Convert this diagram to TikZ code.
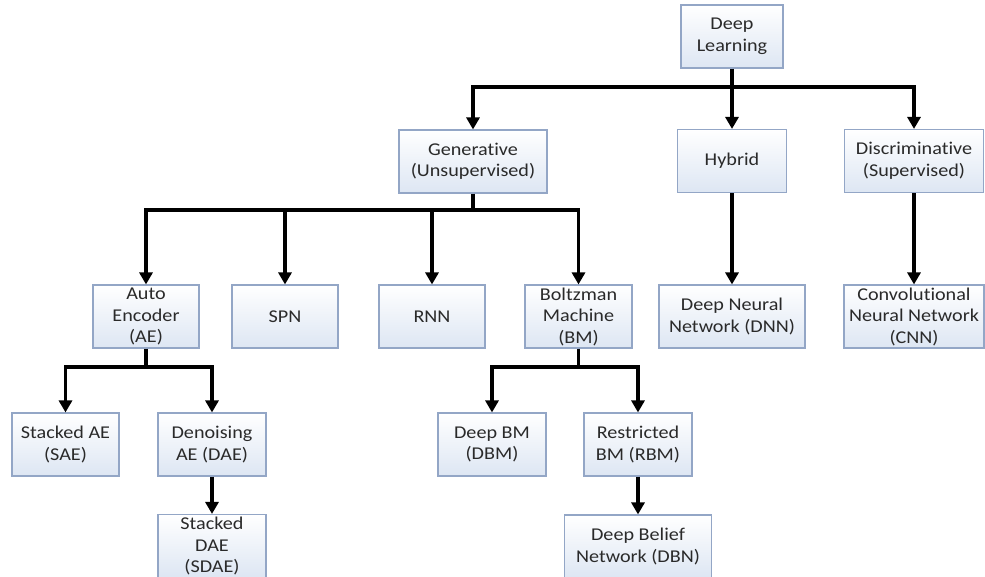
\documentclass[tikz,border=0pt]{standalone}
\usepackage{fontspec}
\setmainfont{Carlito}[FakeStretch=1.12,Ligatures={NoCommon}]
\usetikzlibrary{arrows.meta}
\definecolor{boxline}{HTML}{93A6C6}
\definecolor{boxfill}{HTML}{DDE6F3}
\definecolor{txt}{HTML}{2A2A2A}
\tikzset{
  bx/.style={draw=boxline, line width=1.1pt, top color=white, bottom color=boxfill,
    align=center, inner sep=0pt, minimum height=63pt, text=txt,
    font=\fontsize{18}{21.5}\selectfont},
  conn/.style={line width=3.4pt, black},
  arr/.style={conn, -{Triangle[length=12pt,width=13pt]}}
}
\begin{document}
\begin{tikzpicture}[x=1pt,y=-1pt]
\useasboundingbox (0,0) rectangle (985,577);
% level 0
\node[bx, minimum width=102pt] (DL) at (732,36.5) {Deep\\Learning};
% level 1
\node[bx, minimum width=148pt] (Gen) at (473,161.5) {Generative\\(Unsupervised)};
\node[bx, minimum width=109pt] (Hyb) at (732,161) {Hybrid};
\node[bx, minimum width=139pt] (Dis) at (914,161) {Discriminative\\(Supervised)};
% level 2
\node[bx, minimum width=106pt] (AE) at (146,316.5) {Auto\\Encoder\\(AE)};
\node[bx, minimum width=106pt] (SPN) at (285,316.5) {SPN};
\node[bx, minimum width=106pt] (RNN) at (432,316.5) {RNN};
\node[bx, minimum width=107pt] (BM) at (578.5,316.5) {Boltzman\\Machine\\(BM)};
\node[bx, minimum width=146pt] (DNN) at (732,316.5) {Deep Neural\\Network (DNN)};
\node[bx, minimum width=140pt] (CNN) at (914,316.5) {Convolutional\\Neural Network\\(CNN)};
% level 3
\node[bx, minimum width=107pt] (SAE) at (65.5,444.5) {Stacked AE\\(SAE)};
\node[bx, minimum width=108pt] (DAE) at (212,444.5) {Denoising\\AE (DAE)};
\node[bx, minimum width=108pt] (DBM) at (492,444.5) {Deep BM\\(DBM)};
\node[bx, minimum width=108pt] (RBM) at (638,444.5) {Restricted\\BM (RBM)};
% level 4
\node[bx, minimum width=108pt] (SDAE) at (212,546) {Stacked\\DAE\\(SDAE)};
\node[bx, minimum width=147pt] (DBN) at (638,546.5) {Deep Belief\\Network (DBN)};
% connectors
\coordinate (j0) at (732,87);
\draw[conn] (DL.south) -- (j0);
\draw[arr] (j0) -| (Gen.north);
\draw[arr] (j0) -| (Dis.north);
\draw[arr] (j0) -- (Hyb.north);
\coordinate (j1) at (473,210);
\draw[conn] (Gen.south) -- (j1);
\draw[arr] (j1) -| (AE.north);
\draw[arr] (j1) -| (SPN.north);
\draw[arr] (j1) -| (RNN.north);
\draw[arr] (j1) -| (BM.north);
\draw[arr] (Hyb.south) -- (DNN.north);
\draw[arr] (Dis.south) -- (CNN.north);
\coordinate (j2) at (146,367);
\draw[conn] (AE.south) -- (j2);
\draw[arr] (j2) -| (SAE.north);
\draw[arr] (j2) -| (DAE.north);
\coordinate (j3) at (578.5,367);
\draw[conn] (BM.south) -- (j3);
\draw[arr] (j3) -| (DBM.north);
\draw[arr] (j3) -| (RBM.north);
\draw[arr] (DAE.south) -- (SDAE.north);
\draw[arr] (RBM.south) -- (DBN.north);
\end{tikzpicture}
\end{document}
